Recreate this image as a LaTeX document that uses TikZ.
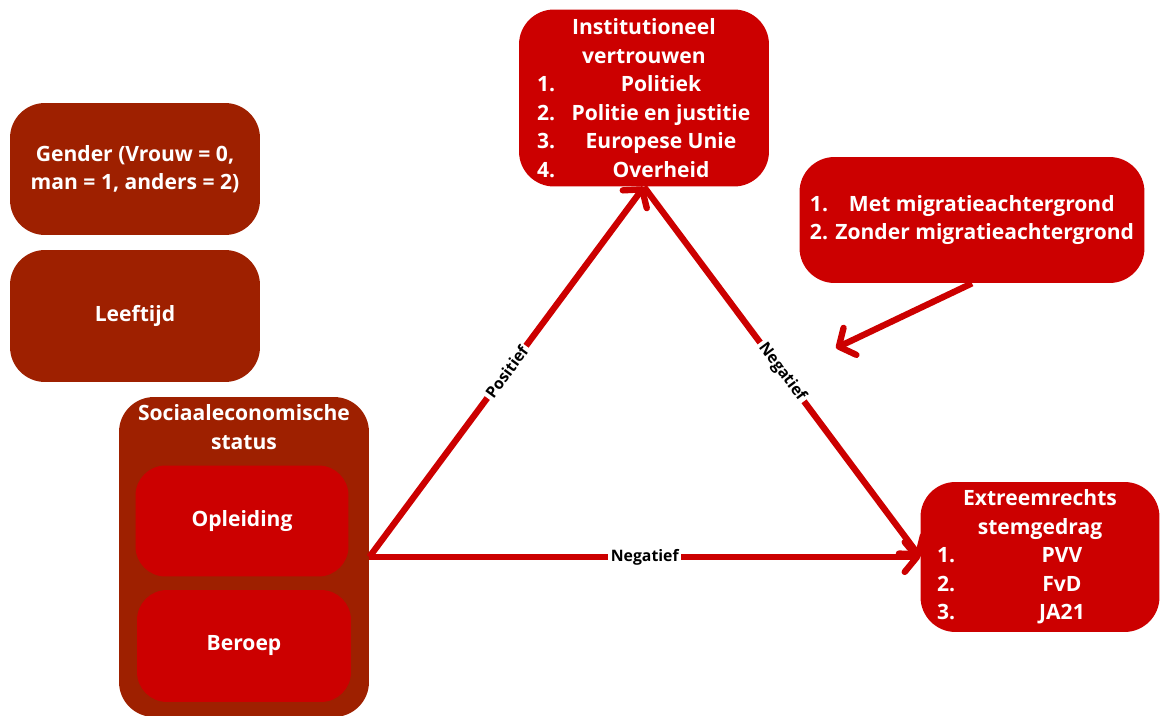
\documentclass[tikz,border=0pt]{standalone}
\usepackage{fontspec}
\setmainfont{Open Sans}
\usetikzlibrary{arrows.meta, positioning}
\definecolor{donkerrood}{RGB}{158, 32, 0}
\definecolor{helderrood}{RGB}{204, 0, 0}
\newcommand{\rij}[4]{\makebox[#1][l]{#3}\makebox[#2]{#4}}

\begin{document}
\begin{tikzpicture}[
                x=0.02cm, y=-0.02cm,
                blok/.style={
                    rectangle,
                    rounded corners=0.7cm,
                    text=white,
                    align=center,
                    font=\fontsize{12}{16.2}\selectfont\bfseries
                },
                donker/.style={blok, fill=donkerrood},
                rood/.style={blok, fill=helderrood},
                pijl/.style={
                    draw=helderrood,
                    line width=3.6pt,
                    -{Straight Barb[length=7pt, width=17pt, round]}
                },
                etiket/.style={
                    fill=white,
                    text=black,
                    inner sep=1.5pt,
                    sloped,
                    font=\fontsize{9}{10}\selectfont\bfseries
                }
            ]
                \useasboundingbox (0,0) rectangle (1161,716);
                % linkerkolom
                \node[donker, minimum width=5cm, minimum height=2.64cm] (gender) at (135,169) {Gender (Vrouw = 0,\\man = 1, anders = 2)};
                \node[donker, minimum width=5cm, minimum height=2.64cm] (leeftijd) at (135,316) {Leeftijd};
                \node[donker, minimum width=5cm, minimum height=6.4cm] (ses) at (244,557) {};
                \node[blok] (sestitel) at (244,427) {Sociaaleconomische\\status};
                \node[rood, rounded corners=0.6cm, minimum width=4.26cm, minimum height=2.22cm] (opleiding) at (242,521) {Opleiding};
                \node[rood, rounded corners=0.6cm, minimum width=4.28cm, minimum height=2.24cm] (beroep) at (244,646) {Beroep};
                % rechts
                \node[rood, minimum width=5cm, minimum height=3.54cm] (vertrouwen) at (644,98) {Institutioneel\\vertrouwen\\
                    \rij{0.68cm}{3.6cm}{1.}{Politiek}\\
                    \rij{0.68cm}{3.6cm}{2.}{Politie en justitie}\\
                    \rij{0.68cm}{3.6cm}{3.}{Europese Unie}\\
                    \rij{0.68cm}{3.6cm}{4.}{Overheid}};
                \node[rood, minimum width=6.9cm, minimum height=2.52cm, align=left] (migratie) at (972,220) {\makebox[0.78cm][l]{1.}Met migratieachtergrond\\2. Zonder migratieachtergrond};
                \node[rood, minimum width=4.78cm, minimum height=3cm] (stemgedrag) at (1040,557) {Extreemrechts\\stemgedrag\\
                    \rij{0.88cm}{3.24cm}{1.}{PVV}\\
                    \rij{0.88cm}{3.24cm}{2.}{FvD}\\
                    \rij{0.88cm}{3.24cm}{3.}{JA21}};
                \coordinate (doel) at (836,348);
                % pijlen
                \draw[pijl] (ses.east) -- node[etiket] {Positief} (vertrouwen.south);
                \draw[pijl] (vertrouwen.south) -- node[etiket] {Negatief} (stemgedrag.west);
                \draw[pijl] (ses.east) -- node[etiket] {Negatief} (stemgedrag.west);
                \draw[pijl] (migratie.south) -- (doel);
            \end{tikzpicture}
\end{document}
